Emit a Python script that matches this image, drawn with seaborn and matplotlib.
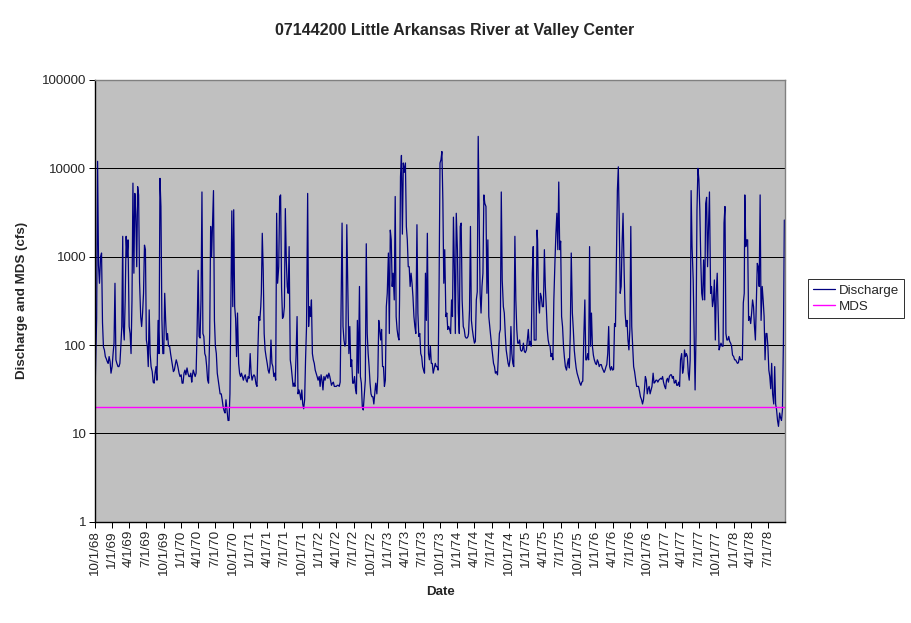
import pandas as pd
import numpy as np
import matplotlib
matplotlib.use("Agg")
import matplotlib.pyplot as plt
import matplotlib.ticker as mticker
import seaborn as sns

# discharge (cfs) read off the chart on the 1st, 6th, 11th, 16th, 21st and 26th
# of each month, one list per water year (Oct -> Sep), two months per row
wy1969 = [20, 60, 200, 12000, 800, 500, 1000, 1100, 180, 95, 88, 74,
          70, 65, 62, 74, 65, 48, 57, 80, 105, 500, 68, 62,
          57, 57, 62, 97, 162, 1700, 162, 114, 324, 1700, 1000, 1550,
          162, 135, 80, 324, 6800, 650, 5200, 3000, 770, 6200, 5000, 520,
          210, 162, 230, 385, 1350, 1200, 114, 97, 57, 250, 80, 57,
          50, 38, 37, 48, 57, 40, 190, 80, 7700, 3700, 200, 80]
wy1970 = [80, 385, 190, 114, 135, 97, 97, 80, 68, 57, 50, 52,
          60, 68, 62, 55, 48, 44, 46, 37, 37, 48, 52, 46,
          55, 48, 44, 44, 48, 38, 44, 52, 48, 44, 48, 135,
          700, 125, 120, 324, 5400, 135, 125, 80, 74, 57, 40, 37,
          135, 2200, 1000, 2300, 5600, 190, 97, 80, 48, 40, 34, 28,
          28, 24, 20, 18, 17, 24, 18, 14, 14, 28, 272, 3300]
wy1971 = [272, 3400, 272, 200, 74, 230, 62, 48, 44, 48, 44, 40,
          44, 46, 40, 38, 44, 42, 80, 48, 40, 44, 46, 44,
          36, 34, 92, 210, 190, 272, 385, 1840, 700, 135, 88, 74,
          62, 52, 48, 57, 114, 62, 57, 44, 48, 40, 3100, 500,
          770, 4800, 5000, 450, 200, 210, 272, 3500, 920, 460, 385, 1300,
          68, 57, 44, 34, 37, 34, 80, 210, 28, 31, 28, 24]
wy1972 = [31, 21.5, 19, 24, 70, 162, 5200, 162, 272, 210, 324, 80,
          68, 62, 52, 48, 44, 40, 44, 34, 46, 40, 31, 44,
          40, 44, 46, 42, 48, 44, 40, 35, 37, 38, 34, 34,
          34, 35, 35, 34, 38, 272, 2400, 162, 114, 97, 105, 2300,
          380, 80, 162, 57, 68, 37, 37, 44, 32, 28, 190, 48,
          460, 44, 37, 20, 18.4, 26, 40, 1400, 135, 80, 57, 37]
wy1973 = [28, 26, 26, 21.5, 28, 37, 28, 44, 190, 150, 114, 150,
          57, 57, 34, 40, 272, 385, 1100, 135, 2000, 1550, 460, 650,
          324, 4800, 210, 150, 125, 114, 324, 8000, 14000, 1800, 11500, 9000,
          11500, 2200, 1550, 770, 770, 460, 650, 500, 350, 210, 162, 135,
          2300, 230, 125, 135, 80, 74, 57, 52, 48, 650, 190, 1840,
          80, 68, 97, 62, 62, 48, 55, 62, 57, 57, 52, 460]
wy1974 = [11500, 12500, 15500, 4400, 500, 1200, 210, 230, 150, 162, 150, 135,
          324, 210, 2800, 770, 135, 3100, 1200, 230, 135, 2200, 2400, 324,
          162, 150, 125, 120, 120, 125, 135, 250, 2200, 190, 150, 125,
          105, 110, 324, 400, 23000, 3100, 385, 230, 460, 650, 5000, 4000,
          3700, 385, 1550, 210, 162, 125, 97, 77, 62, 57, 48, 50,
          46, 80, 135, 150, 5400, 545, 272, 230, 135, 88, 74, 62]
wy1975 = [57, 68, 162, 80, 62, 57, 1700, 324, 150, 105, 105, 114,
          88, 85, 88, 105, 85, 82, 88, 114, 150, 100, 110, 97,
          650, 1300, 114, 114, 114, 2000, 1550, 324, 230, 385, 350, 272,
          272, 1200, 460, 272, 150, 114, 100, 97, 74, 80, 68, 324,
          900, 1840, 3100, 1200, 7000, 1200, 1500, 210, 162, 97, 72, 57,
          52, 62, 70, 55, 135, 1100, 230, 150, 88, 68, 55, 48]
wy1976 = [44, 40, 37, 35, 38, 39, 135, 324, 68, 68, 80, 68,
          1300, 97, 230, 97, 77, 68, 62, 60, 68, 64, 57, 60,
          60, 55, 52, 49, 52, 57, 60, 80, 162, 57, 52, 57,
          52, 53, 175, 162, 1000, 5600, 10400, 2400, 385, 460, 1400, 3100,
          650, 230, 162, 190, 114, 88, 150, 2200, 162, 97, 57, 50,
          40, 34, 34, 34, 30, 26, 24, 21.5, 24, 31, 44, 40]
wy1977 = [28, 32, 34, 28, 31, 34, 48, 37, 38, 40, 40, 38,
          40, 41, 42, 41, 44, 38, 34, 32, 40, 42, 38, 44,
          46, 46, 42, 44, 37, 38, 40, 35, 35, 38, 34, 68,
          80, 48, 55, 88, 74, 80, 74, 48, 40, 68, 5600, 1300,
          545, 135, 31, 135, 3400, 10000, 7500, 3400, 920, 385, 324, 920,
          324, 4000, 4700, 770, 2200, 5400, 385, 460, 272, 324, 545, 114]
wy1978 = [385, 650, 230, 88, 97, 105, 97, 97, 2400, 3700, 135, 114,
          114, 125, 110, 105, 97, 77, 74, 68, 68, 65, 62, 63,
          74, 68, 68, 68, 300, 385, 5000, 1300, 1550, 1550, 190, 210,
          175, 230, 324, 272, 162, 114, 300, 840, 770, 460, 5000, 190,
          460, 324, 210, 68, 135, 135, 97, 52, 44, 32, 62, 28,
          21.5, 57, 21.5, 18.4, 14, 12, 17, 15, 14, 18.4, 105, 2600]

water_years = [1969, 1970, 1971, 1972, 1973, 1974, 1975, 1976, 1977, 1978]
discharge_by_year = [wy1969, wy1970, wy1971, wy1972, wy1973,
                     wy1974, wy1975, wy1976, wy1977, wy1978]
sample_days = [1, 6, 11, 16, 21, 26]

mds_value = 20
mds_dates = ["1968-10-01", "1978-09-30"]

title = "07144200 Little Arkansas River at Valley Center"

rows = []
for wy, vals in zip(water_years, discharge_by_year):
    months = pd.date_range(f"{wy - 1}-10-01", f"{wy}-09-01", freq="MS")
    dates = [m + pd.Timedelta(days=d - 1) for m in months for d in sample_days]
    rows += list(zip(dates, vals))
df = pd.DataFrame(rows, columns=["date", "discharge"])
mds = pd.DataFrame({"date": pd.to_datetime(mds_dates), "mds": [mds_value] * 2})

sns.set_style("white")
plt.rcParams["font.family"] = ["Liberation Sans", "DejaVu Sans"]

px = 0.72  # one pixel at 100 dpi, in points

fig = plt.figure(figsize=(9.11, 6.23), dpi=100)
ax = fig.add_axes([0.104, 0.1626, 0.758, 0.709])
ax.set_facecolor("#C0C0C0")

sns.lineplot(data=df, x="date", y="discharge", ax=ax, color="#000080",
             linewidth=0.9, label="Discharge", legend=False)
sns.lineplot(data=mds, x="date", y="mds", ax=ax, color="#FF00FF",
             linewidth=1.0, label="MDS", legend=False)

ax.set_yscale("log")
ax.set_ylim(1, 100000)
ax.set_xlim(pd.Timestamp("1968-10-01"), pd.Timestamp("1978-10-01"))
ax.yaxis.set_major_locator(mticker.FixedLocator([1, 10, 100, 1000, 10000, 100000]))
ax.yaxis.set_major_formatter(mticker.FuncFormatter(lambda v, p: f"{int(round(v))}"))
ax.yaxis.set_minor_locator(mticker.NullLocator())
ax.grid(axis="y", color="black", linewidth=px)
ax.grid(axis="x", visible=False)

ticks = pd.date_range("1968-10-01", "1978-07-01", freq="3MS")
ax.set_xticks(ticks)
ax.set_xticklabels([f"{t.month}/{t.day}/{t:%y}" for t in ticks], rotation=90)

ax.tick_params(axis="both", direction="out", length=4, width=px, color="black",
               labelsize=9.6, pad=2, bottom=True, left=True)
for side in ["left", "bottom"]:
    ax.spines[side].set_color("black")
    ax.spines[side].set_linewidth(1.0)
for side in ["top", "right"]:
    ax.spines[side].set_color("#808080")
    ax.spines[side].set_linewidth(1.0)

ax.set_xlabel("Date", fontsize=9.6, fontweight="bold", labelpad=8)
ax.set_ylabel("Discharge and MDS (cfs)", fontsize=9.6, fontweight="bold", labelpad=10)
fig.text(0.4995, 1 - 31 / 623, title, ha="center", va="center",
         fontsize=11.5, fontweight="bold")

handles, labels = ax.get_legend_handles_labels()
leg = fig.legend(handles, labels, loc="upper left", bbox_to_anchor=(0.887, 0.552),
                 frameon=True, fancybox=False, edgecolor="black", fontsize=9.6,
                 handlelength=1.6, handletextpad=0.3, borderpad=0.4,
                 labelspacing=0.3, borderaxespad=0)
leg.get_frame().set_linewidth(px)

fig.savefig("out.png", dpi=100, facecolor="white")
